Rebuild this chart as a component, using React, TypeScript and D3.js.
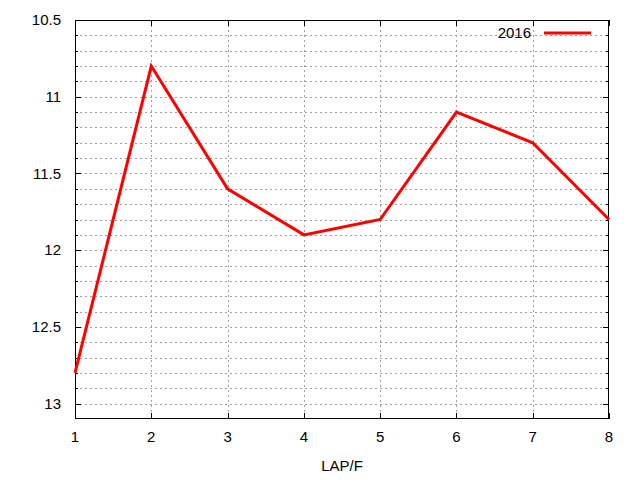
import React from "react";
import * as d3 from "d3";

const laps = [1, 2, 3, 4, 5, 6, 7, 8];
const times2016 = [12.8, 10.8, 11.6, 11.9, 11.8, 11.1, 11.3, 11.8];
const yMajorTicks = [10.5, 11, 11.5, 12, 12.5, 13];
const seriesName = "2016";
const xLabel = "LAP/F";

const W = 640;
const H = 480;
const margin = { top: 20, right: 31, bottom: 61, left: 75 };
const FONT = "'Liberation Sans', Arial, sans-serif";

const App: React.FC = () => {
  const x = d3.scaleLinear().domain([1, 8]).range([margin.left, W - margin.right]);
  const y = d3.scaleLinear().domain([10.5, 13.1]).range([margin.top, H - margin.bottom]);

  // minor ticks every 0.1
  const yMinor = d3.range(106, 131).map(v => v / 10);

  const line = d3.line<number>()
    .x((_, i) => x(laps[i]))
    .y(d => y(d));

  const left = x.range()[0];
  const right = x.range()[1];
  const top = y.range()[0];
  const bottom = y.range()[1];

  return (
    <svg width={W} height={H} style={{ position: "absolute", left: 0, top: 0, background: "white" }}
      fontFamily={FONT} fontSize={15}>
      <rect width={W} height={H} fill="white" />
      {/* grid */}
      {yMinor.map(v => (
        <line key={"gy" + v} x1={left} x2={right} y1={Math.round(y(v)) + 0.5} y2={Math.round(y(v)) + 0.5}
          stroke="#a0a0a0" strokeDasharray="2,3" />
      ))}
      {laps.slice(1, -1).map(v => (
        <line key={"gx" + v} x1={Math.round(x(v)) + 0.5} x2={Math.round(x(v)) + 0.5} y1={top} y2={bottom}
          stroke="#a0a0a0" strokeDasharray="2,3" />
      ))}
      {/* ticks */}
      {yMinor.map(v => {
        const major = yMajorTicks.some(t => Math.abs(t - v) < 1e-6);
        const len = major ? 6 : 3;
        const yy = Math.round(y(v)) + 0.5;
        return (
          <g key={"ty" + v}>
            <line x1={left} x2={left + len} y1={yy} y2={yy} stroke="black" />
            <line x1={right} x2={right - len} y1={yy} y2={yy} stroke="black" />
          </g>
        );
      })}
      {laps.map(v => {
        const xx = Math.round(x(v)) + 0.5;
        return (
          <g key={"tx" + v}>
            <line x1={xx} x2={xx} y1={bottom} y2={bottom - 6} stroke="black" />
            <line x1={xx} x2={xx} y1={top} y2={top + 6} stroke="black" />
          </g>
        );
      })}
      {/* frame */}
      <rect x={left + 0.5} y={top + 0.5} width={right - left - 1} height={bottom - top - 1}
        fill="none" stroke="black" strokeWidth={1} />
      {/* tick labels */}
      {yMajorTicks.map(v => (
        <text key={"ly" + v} x={left - 14} y={y(v)} dy="0.35em" textAnchor="end" fill="black">{v}</text>
      ))}
      {laps.map(v => (
        <text key={"lx" + v} x={x(v)} y={bottom + 18} dy="0.35em" textAnchor="middle" fill="black">{v}</text>
      ))}
      <text x={(left + right) / 2} y={bottom + 47} dy="0.35em" textAnchor="middle" fill="black">{xLabel}</text>
      {/* series */}
      <path d={line(times2016) ?? ""} fill="none" stroke="#ff0000" strokeWidth={3} strokeLinejoin="miter" />
      {/* legend */}
      <text x={531} y={33} dy="0.35em" textAnchor="end" fill="black">{seriesName}</text>
      <line x1={544} x2={591} y1={33} y2={33} stroke="#ff0000" strokeWidth={3} />
    </svg>
  );
};

export default App;
